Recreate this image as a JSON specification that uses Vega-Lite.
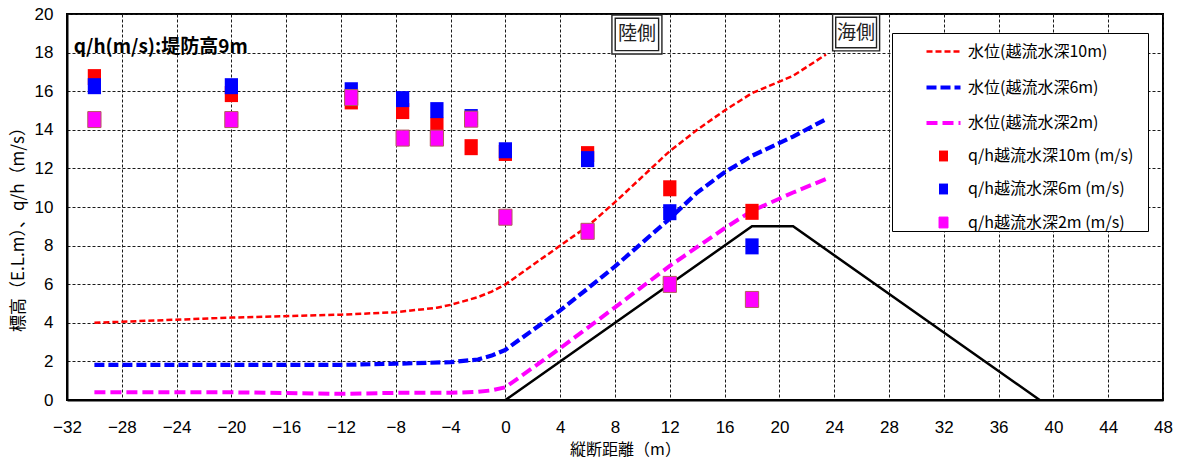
{
  "$schema": "https://vega.github.io/schema/vega-lite/v6.json",
  "width": 1096,
  "height": 386,
  "autosize": {"type": "none"},
  "padding": {"left": 67, "top": 14, "right": 19, "bottom": 59},
  "background": "white",
  "config": {
    "view": {"stroke": "black", "strokeWidth": 2},
    "font": "Noto Sans CJK JP"
  },
  "datasets": {
    "lines": [
      {"series": "水位(越流水深10m)", "x": -30, "y": 4.0},
      {"series": "水位(越流水深10m)", "x": -20, "y": 4.27},
      {"series": "水位(越流水深10m)", "x": -12, "y": 4.42},
      {"series": "水位(越流水深10m)", "x": -8, "y": 4.55},
      {"series": "水位(越流水深10m)", "x": -5, "y": 4.78},
      {"series": "水位(越流水深10m)", "x": -4, "y": 4.93},
      {"series": "水位(越流水深10m)", "x": -2, "y": 5.33},
      {"series": "水位(越流水深10m)", "x": -1, "y": 5.62},
      {"series": "水位(越流水深10m)", "x": 0, "y": 5.99},
      {"series": "水位(越流水深10m)", "x": 4, "y": 8.0},
      {"series": "水位(越流水深10m)", "x": 6, "y": 9.0},
      {"series": "水位(越流水深10m)", "x": 8, "y": 10.25},
      {"series": "水位(越流水深10m)", "x": 12, "y": 12.9},
      {"series": "水位(越流水深10m)", "x": 14, "y": 14.0},
      {"series": "水位(越流水深10m)", "x": 16, "y": 15.0},
      {"series": "水位(越流水深10m)", "x": 18, "y": 15.9},
      {"series": "水位(越流水深10m)", "x": 20, "y": 16.5},
      {"series": "水位(越流水深10m)", "x": 21, "y": 16.8},
      {"series": "水位(越流水深10m)", "x": 23.4, "y": 17.9},
      {"series": "水位(越流水深6m)", "x": -30, "y": 1.82},
      {"series": "水位(越流水深6m)", "x": -20, "y": 1.82},
      {"series": "水位(越流水深6m)", "x": -12, "y": 1.82},
      {"series": "水位(越流水深6m)", "x": -8, "y": 1.88},
      {"series": "水位(越流水深6m)", "x": -4, "y": 1.96},
      {"series": "水位(越流水深6m)", "x": -2, "y": 2.1},
      {"series": "水位(越流水深6m)", "x": -1, "y": 2.3},
      {"series": "水位(越流水深6m)", "x": 0, "y": 2.6},
      {"series": "水位(越流水深6m)", "x": 4, "y": 4.64},
      {"series": "水位(越流水深6m)", "x": 6, "y": 5.77},
      {"series": "水位(越流水深6m)", "x": 8, "y": 6.92},
      {"series": "水位(越流水深6m)", "x": 12, "y": 9.4},
      {"series": "水位(越流水深6m)", "x": 14, "y": 10.75},
      {"series": "水位(越流水深6m)", "x": 16, "y": 11.8},
      {"series": "水位(越流水深6m)", "x": 18, "y": 12.65},
      {"series": "水位(越流水深6m)", "x": 21, "y": 13.65},
      {"series": "水位(越流水深6m)", "x": 23.4, "y": 14.55},
      {"series": "水位(越流水深2m)", "x": -30, "y": 0.4},
      {"series": "水位(越流水深2m)", "x": -20, "y": 0.4},
      {"series": "水位(越流水深2m)", "x": -12, "y": 0.32},
      {"series": "水位(越流水深2m)", "x": -8, "y": 0.37},
      {"series": "水位(越流水深2m)", "x": -4, "y": 0.37},
      {"series": "水位(越流水深2m)", "x": -2, "y": 0.42},
      {"series": "水位(越流水深2m)", "x": -1, "y": 0.5},
      {"series": "水位(越流水深2m)", "x": 0, "y": 0.66},
      {"series": "水位(越流水深2m)", "x": 4, "y": 2.68},
      {"series": "水位(越流水深2m)", "x": 8, "y": 4.8},
      {"series": "水位(越流水深2m)", "x": 12, "y": 6.95},
      {"series": "水位(越流水深2m)", "x": 16, "y": 8.9},
      {"series": "水位(越流水深2m)", "x": 18, "y": 9.8},
      {"series": "水位(越流水深2m)", "x": 21, "y": 10.75},
      {"series": "水位(越流水深2m)", "x": 23.4, "y": 11.45}
    ],
    "dyke": [
      {"x": 0, "y": 0},
      {"x": 18, "y": 9},
      {"x": 21, "y": 9},
      {"x": 39, "y": 0}
    ],
    "qh": [
      {"series": "q/h越流水深10m (m/s)", "x": -30, "y": 16.73},
      {"series": "q/h越流水深10m (m/s)", "x": -20, "y": 15.85},
      {"series": "q/h越流水深10m (m/s)", "x": -11.25, "y": 15.47},
      {"series": "q/h越流水深10m (m/s)", "x": -7.5, "y": 14.97},
      {"series": "q/h越流水深10m (m/s)", "x": -5, "y": 14.22},
      {"series": "q/h越流水深10m (m/s)", "x": -2.5, "y": 13.1},
      {"series": "q/h越流水深10m (m/s)", "x": 0, "y": 12.8},
      {"series": "q/h越流水深10m (m/s)", "x": 6, "y": 12.74},
      {"series": "q/h越流水深10m (m/s)", "x": 12, "y": 10.97},
      {"series": "q/h越流水深10m (m/s)", "x": 18, "y": 9.75},
      {"series": "q/h越流水深6m (m/s)", "x": -30, "y": 16.26},
      {"series": "q/h越流水深6m (m/s)", "x": -20, "y": 16.26},
      {"series": "q/h越流水深6m (m/s)", "x": -11.25, "y": 16.05},
      {"series": "q/h越流水深6m (m/s)", "x": -7.5, "y": 15.59},
      {"series": "q/h越流水深6m (m/s)", "x": -5, "y": 15.02},
      {"series": "q/h越流水深6m (m/s)", "x": -2.5, "y": 14.66},
      {"series": "q/h越流水深6m (m/s)", "x": 0, "y": 12.94},
      {"series": "q/h越流水深6m (m/s)", "x": 6, "y": 12.48},
      {"series": "q/h越流水深6m (m/s)", "x": 12, "y": 9.73},
      {"series": "q/h越流水深6m (m/s)", "x": 18, "y": 7.96},
      {"series": "q/h越流水深2m (m/s)", "x": -30, "y": 14.53},
      {"series": "q/h越流水深2m (m/s)", "x": -20, "y": 14.53},
      {"series": "q/h越流水深2m (m/s)", "x": -11.25, "y": 15.67},
      {"series": "q/h越流水深2m (m/s)", "x": -7.5, "y": 13.57},
      {"series": "q/h越流水深2m (m/s)", "x": -5, "y": 13.57},
      {"series": "q/h越流水深2m (m/s)", "x": -2.5, "y": 14.55},
      {"series": "q/h越流水深2m (m/s)", "x": 0, "y": 9.47},
      {"series": "q/h越流水深2m (m/s)", "x": 6, "y": 8.74},
      {"series": "q/h越流水深2m (m/s)", "x": 12, "y": 5.99},
      {"series": "q/h越流水深2m (m/s)", "x": 18, "y": 5.21}
    ],
    "boxes": [
      {"x": 9.6, "y": 18.94, "label": "陸側"},
      {"x": 25.6, "y": 19.04, "label": "海側"}
    ],
    "note": [
      {"x": -31.5, "y": 18.29, "label": "q/h(m/s):堤防高9m"}
    ]
  },
  "encoding": {
    "x": {
      "field": "x",
      "type": "quantitative",
      "title": "縦断距離（m）",
      "scale": {"domain": [-32, 48], "nice": false, "zero": false},
      "axis": {
        "values": [-32, -28, -24, -20, -16, -12, -8, -4, 0, 4, 8, 12, 16, 20, 24, 28, 32, 36, 40, 44, 48],
        "grid": true,
        "gridDash": [3, 2],
        "gridColor": "#1a1a1a",
        "gridWidth": 1,
        "ticks": false,
        "domainColor": "black",
        "domainWidth": 2,
        "labelFont": "Liberation Sans",
        "labelFontSize": 17,
        "labelColor": "black",
        "labelBaseline": "middle",
        "labelPadding": 27,
        "labelFlush": false,
        "labelOverlap": false,
        "titleFont": "Noto Sans CJK JP",
        "titleFontSize": 16,
        "titleFontWeight": "normal",
        "titleColor": "black",
        "titleX": 558,
        "titleY": 49,
        "titleAlign": "center",
        "titleBaseline": "middle"
      }
    },
    "y": {
      "field": "y",
      "type": "quantitative",
      "title": "標高（E.L.m）、q/h（m/s）",
      "scale": {"domain": [0, 20], "nice": false, "zero": false},
      "axis": {
        "values": [0, 2, 4, 6, 8, 10, 12, 14, 16, 18, 20],
        "grid": true,
        "gridDash": [3, 2],
        "gridColor": "#1a1a1a",
        "gridWidth": 1,
        "ticks": false,
        "domainColor": "black",
        "domainWidth": 2,
        "labelFont": "Liberation Sans",
        "labelFontSize": 17,
        "labelColor": "black",
        "labelPadding": 14,
        "labelFlush": false,
        "labelOverlap": false,
        "titleFont": "Noto Sans CJK JP",
        "titleFontSize": 17,
        "titleFontWeight": "normal",
        "titleColor": "black",
        "titleX": -49,
        "titleY": 211,
        "titleAngle": -90,
        "titleAlign": "center",
        "titleBaseline": "middle"
      }
    }
  },
  "layer": [
    {
      "data": {"name": "lines"},
      "mark": {"type": "line", "strokeCap": "butt"},
      "encoding": {
        "color": {
          "field": "series",
          "type": "nominal",
          "scale": {
            "domain": ["水位(越流水深10m)", "水位(越流水深6m)", "水位(越流水深2m)", "q/h越流水深10m (m/s)", "q/h越流水深6m (m/s)", "q/h越流水深2m (m/s)"],
            "range": ["#ff0000", "#0000ff", "#ff00ff", "#ff0000", "#0000ff", "#ff00ff"]
          },
          "legend": {
            "orient": "none",
            "legendX": 825,
            "legendY": 19,
            "title": " ",
            "titleOrient": "left",
            "titleFontSize": 2,
            "titlePadding": 32,
            "padding": 0,
            "strokeColor": "black",
            "fillColor": "white",
            "symbolSize": 1156,
            "rowPadding": 8,
            "labelOffset": 5,
            "labelFont": "Noto Sans CJK JP",
            "labelFontSize": 16,
            "labelColor": "black",
            "labelLimit": 400,
            "labelExpr": "datum.label + '\u00a0\u00a0\u00a0\u00a0\u200b'"
          }
        },
        "strokeDash": {
          "field": "series",
          "type": "nominal",
          "scale": {
            "type": "ordinal",
            "domain": ["水位(越流水深10m)", "水位(越流水深6m)", "水位(越流水深2m)", "q/h越流水深10m (m/s)", "q/h越流水深6m (m/s)", "q/h越流水深2m (m/s)"],
            "range": [[6, 3], [10, 4], [11, 5], [1, 0], [1, 0], [1, 0]]
          }
        },
        "strokeWidth": {
          "field": "series",
          "type": "nominal",
          "scale": {
            "type": "ordinal",
            "domain": ["水位(越流水深10m)", "水位(越流水深6m)", "水位(越流水深2m)", "q/h越流水深10m (m/s)", "q/h越流水深6m (m/s)", "q/h越流水深2m (m/s)"],
            "range": [2.5, 4.2, 4, 0, 0, 1]
          }
        }
      }
    },
    {
      "data": {"name": "dyke"},
      "mark": {"type": "line", "color": "black", "strokeWidth": 2.5},
      "encoding": {}
    },
    {
      "data": {"name": "qh"},
      "mark": {"type": "point", "filled": true, "opacity": 1, "size": 2500},
      "encoding": {
        "color": {"field": "series", "type": "nominal"},
        "shape": {
          "field": "series",
          "type": "nominal",
          "scale": {
            "domain": ["水位(越流水深10m)", "水位(越流水深6m)", "水位(越流水深2m)", "q/h越流水深10m (m/s)", "q/h越流水深6m (m/s)", "q/h越流水深2m (m/s)"],
            "range": ["stroke", "stroke", "stroke", "M-0.265,-0.32L0.265,-0.32L0.265,0.32L-0.265,0.32Z", "M-0.265,-0.32L0.265,-0.32L0.265,0.32L-0.265,0.32Z", "M-0.265,-0.32L0.265,-0.32L0.265,0.32L-0.265,0.32Z"]
          }
        },
        "stroke": {"condition": {"test": "datum.series==='q/h越流水深2m (m/s)'", "value": "#b35c5c"}, "value": null},
        "strokeWidth": {"value": 1}
      }
    },
    {
      "data": {"name": "boxes"},
      "mark": {"type": "point", "filled": true, "opacity": 1, "color": "white", "stroke": "#222222", "strokeWidth": 1.4, "shape": "M-1,-0.78H1V0.78H-1ZM-0.868,-0.648H0.868V0.648H-0.868Z"},
      "encoding": {
        "size": {"condition": {"test": "datum.label==='海側'", "value": 2209}, "value": 2500}
      }
    },
    {
      "data": {"name": "boxes"},
      "mark": {"type": "text", "font": "Noto Sans CJK JP", "fontSize": 19, "color": "#222222", "align": "center", "baseline": "middle"},
      "encoding": {"text": {"field": "label"}}
    },
    {
      "data": {"name": "note"},
      "mark": {"type": "text", "font": "Noto Sans CJK JP", "fontSize": 19, "fontWeight": "bold", "color": "black", "align": "left", "baseline": "middle"},
      "encoding": {"text": {"field": "label"}}
    }
  ]
}
